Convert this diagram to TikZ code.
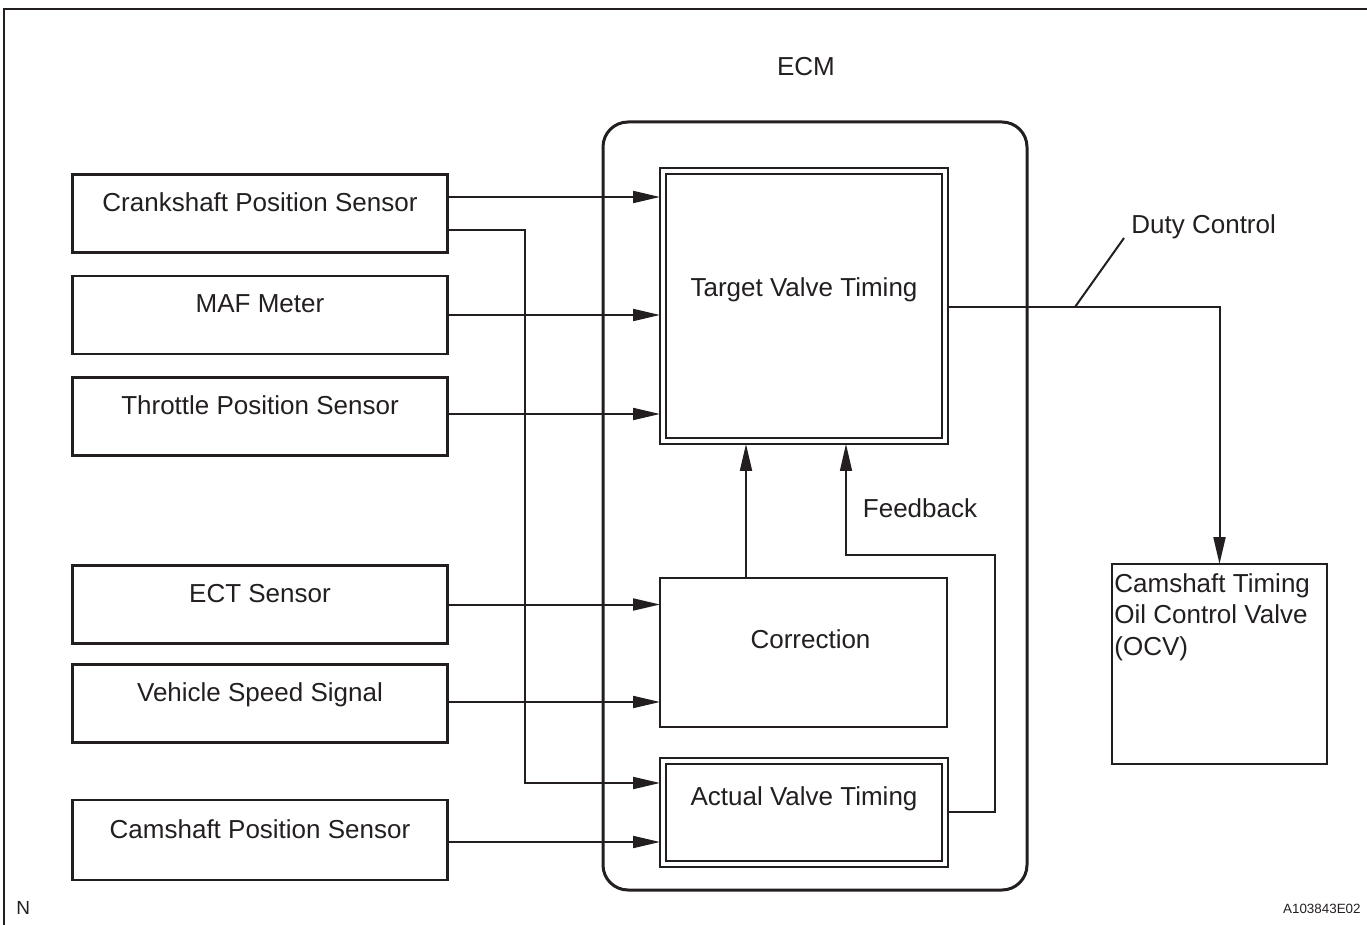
\documentclass[tikz,border=0pt]{standalone}
\usepackage{fontspec}
\setmainfont{Liberation Sans}
\usetikzlibrary{arrows.meta,calc}
\definecolor{ink}{HTML}{231F20}

\begin{document}
\begin{tikzpicture}[x=0.5pt,y=-0.5pt,
  every node/.style={text=ink, font=\fontsize{13pt}{15pt}\selectfont},
  box/.style={draw=ink, line width=1.4pt, outer sep=0pt, inner sep=0pt, rectangle},
  src/.style={box, minimum width=187.5pt, minimum height=39pt, text height=7pt, text depth=9pt},
  inner/.style={draw=ink, line width=0.75pt},
  conn/.style={draw=ink, line width=1pt},
  arr/.style={conn, -{Triangle[length=13.5pt,width=6pt]}},
  fb/.style={draw=ink, line width=0.75pt, -{Triangle[length=13.5pt,width=6pt]}},
]
\useasboundingbox (0,0) rectangle (1367,925);

% sheet frame
\draw[ink, line width=1.2pt] (4,930) -- (4,9) -- (1372,9);

% ECM housing
\node[draw=ink, line width=1.5pt, rounded corners=12.5pt, minimum width=212pt,
      minimum height=384pt, outer sep=0pt] (ecm) at (815,506) {};
\node (ecmT) at (806,67) {ECM};

% input sensors
\node[src] (crank) at (260,213.5) {Crankshaft Position Sensor};
\node[src] (maf)   at (260,315)   {MAF Meter};
\node[src] (thr)   at (260,416.5) {Throttle Position Sensor};
\node[src] (ect)   at (260,604.5) {ECT Sensor};
\node[src] (vss)   at (260,703.5) {Vehicle Speed Signal};
\node[src, minimum height=40pt] (cam) at (260,840) {Camshaft Position Sensor};

% ECM function blocks
\node[box, minimum width=144pt, minimum height=138pt, text height=3pt, text depth=12pt]
  (tvt) at (804,306) {Target Valve Timing};
\draw[inner] ($(tvt.north west)+(6,6)$) rectangle ($(tvt.south east)+(-6,-6)$);

\node[box, minimum width=143.5pt, minimum height=74.5pt, text height=3.5pt, text depth=8pt]
  (corr) at (803.5,652.5) {\hspace*{7pt}Correction};

\node[box, minimum width=144pt, minimum height=54.5pt, text height=2pt, text depth=9.5pt]
  (avt) at (804,812.5) {Actual Valve Timing};
\draw[inner] ($(avt.north west)+(6,6)$) rectangle ($(avt.south east)+(-6,-6)$);

% output actuator
\node[box, minimum width=107.5pt, minimum height=100pt] (ocv) at (1219.5,664) {};
\node[anchor=north west, align=left, inner sep=0pt, font=\fontsize{13pt}{15.8pt}\selectfont]
  (ocvT) at (1114,573) {Camshaft Timing\\Oil Control Valve\\(OCV)};

% signal lines
\draw[arr] (crank.east |- 0,197) -- (tvt.west |- 0,197);
\draw[arr] (crank.east |- 0,230) -| (525,783) -- (avt.west |- 0,783);
\draw[arr] (maf.east) -- (maf.east -| tvt.west);
\draw[arr] (thr.east |- 0,414) -- (tvt.west |- 0,414);
\draw[arr] (ect.east) -- (ect.east -| corr.west);
\draw[arr] (vss.east |- 0,702) -- (corr.west |- 0,702);
\draw[arr] (cam.east |- 0,842) -- (avt.west |- 0,842);
\draw[arr] (corr.north -| 746,0) -- (tvt.south -| 746,0);
\draw[fb] (avt.east |- 0,812) -| (995,555) -| (tvt.south -| 846,0);
\node[anchor=base] (fbT) at (920,517) {Feedback};

% duty-controlled output
\draw[arr] (tvt.east |- 0,307) -| (ocv.north);
\coordinate (dutyA) at (1075,307);
\coordinate (dutyB) at (1124,238);
\draw[conn] (dutyA) -- (dutyB);
\node[anchor=base west, inner sep=0pt] (dutyT) at (1131,234) {Duty Control};

% sheet marks
\node[anchor=base west, inner sep=0pt, font=\fontsize{9.5pt}{11pt}\selectfont] (nT) at (16,914) {N};
\node[anchor=base east, inner sep=0pt, font=\fontsize{6.7pt}{8pt}\selectfont] (code) at (1361,913) {A103843E02};
\end{tikzpicture}
\end{document}
